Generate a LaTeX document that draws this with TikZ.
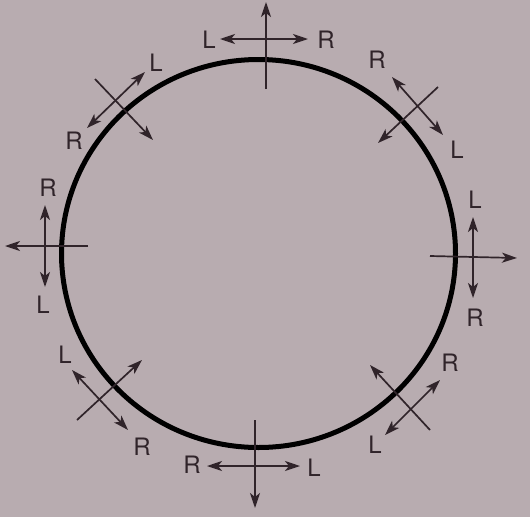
\documentclass[tikz,border=0pt]{standalone}
\usepackage{fontspec}
\setmainfont{TeX Gyre Heros}
\usetikzlibrary{arrows.meta}
\definecolor{paper}{RGB}{184,172,176}
\definecolor{ink}{RGB}{48,36,42}
\begin{document}
\begin{tikzpicture}[x=1pt,y=-1pt,>={Stealth[length=15pt,width=10pt,inset=4pt]},font=\fontsize{24}{28}\selectfont]
	\tikzset{arr/.style={ink,line width=1.7pt}, lab/.style={ink,inner sep=0pt}}
	\fill[paper] (0,0) rectangle (530,517);
	\useasboundingbox (0,0) rectangle (530,517);
	\draw[line width=5pt] (258.5,253.5) ellipse[x radius=197,y radius=194];
	% top
	\draw[arr,->] (266,89)--(266,2);
	\draw[arr,<->] (220,39)--(308,39);
	\node[lab] (topL) at (209,40) {L};
	\node[lab] (topR) at (326,40) {R};
	% top right
	\draw[arr,->] (438,87)--(378,143);
	\draw[arr,<->] (392,77)--(443,135);
	\node[lab] (trR) at (377,60) {R};
	\node[lab] (trL) at (457,150) {L};
	% right
	\draw[arr,->] (430,256)--(517,258);
	\draw[arr,<->] (473,217)--(473,298);
	\node[lab] (rL) at (475,200) {L};
	\node[lab] (rR) at (475,318) {R};
	% bottom right
	\draw[arr,->] (430,430)--(370,365);
	\draw[arr,<->] (385,435)--(440,380);
	\node[lab] (brR) at (450,363) {R};
	\node[lab] (brL) at (375,445) {L};
	% bottom
	\draw[arr,->] (255,420)--(255,508);
	\draw[arr,<->] (207,466)--(300,466);
	\node[lab] (botR) at (192,465) {R};
	\node[lab] (botL) at (314,468) {L};
	% bottom left
	\draw[arr,->] (77,420)--(142,360);
	\draw[arr,<->] (72,370)--(128,430);
	\node[lab] (blL) at (65,355) {L};
	\node[lab] (blR) at (142,447) {R};
	% left
	\draw[arr,->] (88,246)--(5,246);
	\draw[arr,<->] (45,205)--(45,287);
	\node[lab] (lR) at (48,188) {R};
	\node[lab] (lL) at (43,305) {L};
	% top left
	\draw[arr,->] (95,79)--(153,140);
	\draw[arr,<->] (87,128)--(145,72);
	\node[lab] (tlL) at (156,63) {L};
	\node[lab] (tlR) at (74,141) {R};
\end{tikzpicture}
\end{document}
